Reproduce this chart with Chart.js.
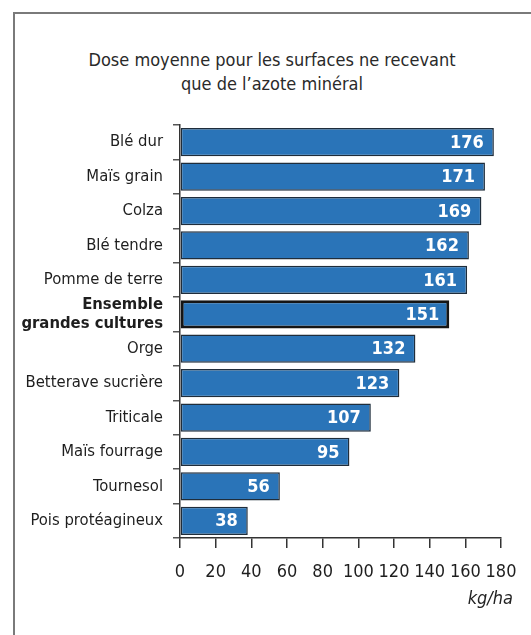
<!DOCTYPE html>
<html>
<head>
<meta charset="utf-8">
<script src="https://cdn.jsdelivr.net/npm/chart.js@4"></script>
<style>
  body { margin:0; background:#fff; width:531px; height:635px; overflow:hidden; position:relative;
         font-family:'DejaVu Sans',sans-serif; font-stretch:condensed; }
  #frame { position:absolute; left:13px; top:12px; right:-5px; bottom:-5px;
           border-left:2px solid #7a7a7a; border-top:2px solid #7a7a7a; }
  #title { position:absolute; left:13px; width:518px; top:48px; text-align:center;
           font-size:18px; line-height:24px; color:#2a2a2a; }
  #unit { position:absolute; right:18px; top:587px; font-size:18px; font-style:italic; color:#222; }
  canvas { position:absolute; left:0; top:0; }
</style>
</head>
<body>
<div id="frame"></div>
<div id="title">Dose moyenne pour les surfaces ne recevant<br>que de l’azote minéral</div>
<canvas id="c" width="531" height="635"></canvas>
<div id="unit">kg/ha</div>
<script>
const categories = ['Blé dur','Maïs grain','Colza','Blé tendre','Pomme de terre',
    ['Ensemble','grandes cultures'],'Orge','Betterave sucrière','Triticale',
    'Maïs fourrage','Tournesol','Pois protéagineux'];
const doses = [176,171,169,162,161,151,132,123,107,95,56,38];
const totalIndex = 5;
const xTicks = [0,20,40,60,80,100,120,140,160,180];

// chart text in the condensed face, like the original
const fontDesc = Object.getOwnPropertyDescriptor(CanvasRenderingContext2D.prototype, 'font');
Object.defineProperty(CanvasRenderingContext2D.prototype, 'font', {
    get(){ return fontDesc.get.call(this); },
    set(v){ fontDesc.set.call(this, v); this.fontStretch = 'condensed'; }
});

const fam = "'DejaVu Sans',sans-serif";
Chart.defaults.font.family = fam;

const valueLabels = {
    id:'valueLabels',
    afterDatasetsDraw(chart){
        const ctx = chart.ctx;
        const meta = chart.getDatasetMeta(0);
        ctx.save();
        ctx.fillStyle = '#fff';
        ctx.font = 'bold 18px ' + fam;
        ctx.textAlign = 'right';
        ctx.textBaseline = 'middle';
        meta.data.forEach((bar,i) => {
            ctx.fillText(doses[i], bar.x - 10, bar.y + 1);
        });
        ctx.restore();
    }
};

new Chart(document.getElementById('c'), {
    type:'bar',
    data:{
        labels:categories,
        datasets:[{
            data:doses,
            backgroundColor:'#2a74b8',
            borderColor:doses.map((d,i) => i==totalIndex ? '#151515' : '#1f2d3b'),
            borderWidth:doses.map((d,i) => i==totalIndex ? 3 : 1.5),
            borderSkipped:false,
            barPercentage:0.82,
            categoryPercentage:1
        }]
    },
    options:{
        indexAxis:'y',
        responsive:false,
        animation:false,
        layout:{ padding:{ top:125, right:30, bottom:0, left:0 } },
        plugins:{ legend:{display:false}, tooltip:{enabled:false} },
        scales:{
            y:{
                afterFit(s){ s.width = 180; },
                grid:{ drawOnChartArea:false, tickLength:7, color:'#555', lineWidth:1.5 },
                border:{ color:'#333', width:1.5 },
                ticks:{
                    padding:10,
                    autoSkip:false,
                    color:'#1e1e1e',
                    font:(c) => c.index==totalIndex
                        ? {size:16.5, weight:'bold', lineHeight:1.2}
                        : {size:16.5}
                }
            },
            x:{
                min:0, max:180,
                afterFit(s){ s.height = 97; },
                afterBuildTicks(s){ s.ticks = xTicks.map(v => ({value:v})); },
                grid:{ drawOnChartArea:false, tickLength:10, color:'#333', lineWidth:1.5 },
                border:{ color:'#333', width:1.5 },
                ticks:{ padding:14, color:'#1e1e1e', font:{size:18}, maxRotation:0, autoSkip:false }
            }
        }
    },
    plugins:[valueLabels]
});
</script>
</body>
</html>
